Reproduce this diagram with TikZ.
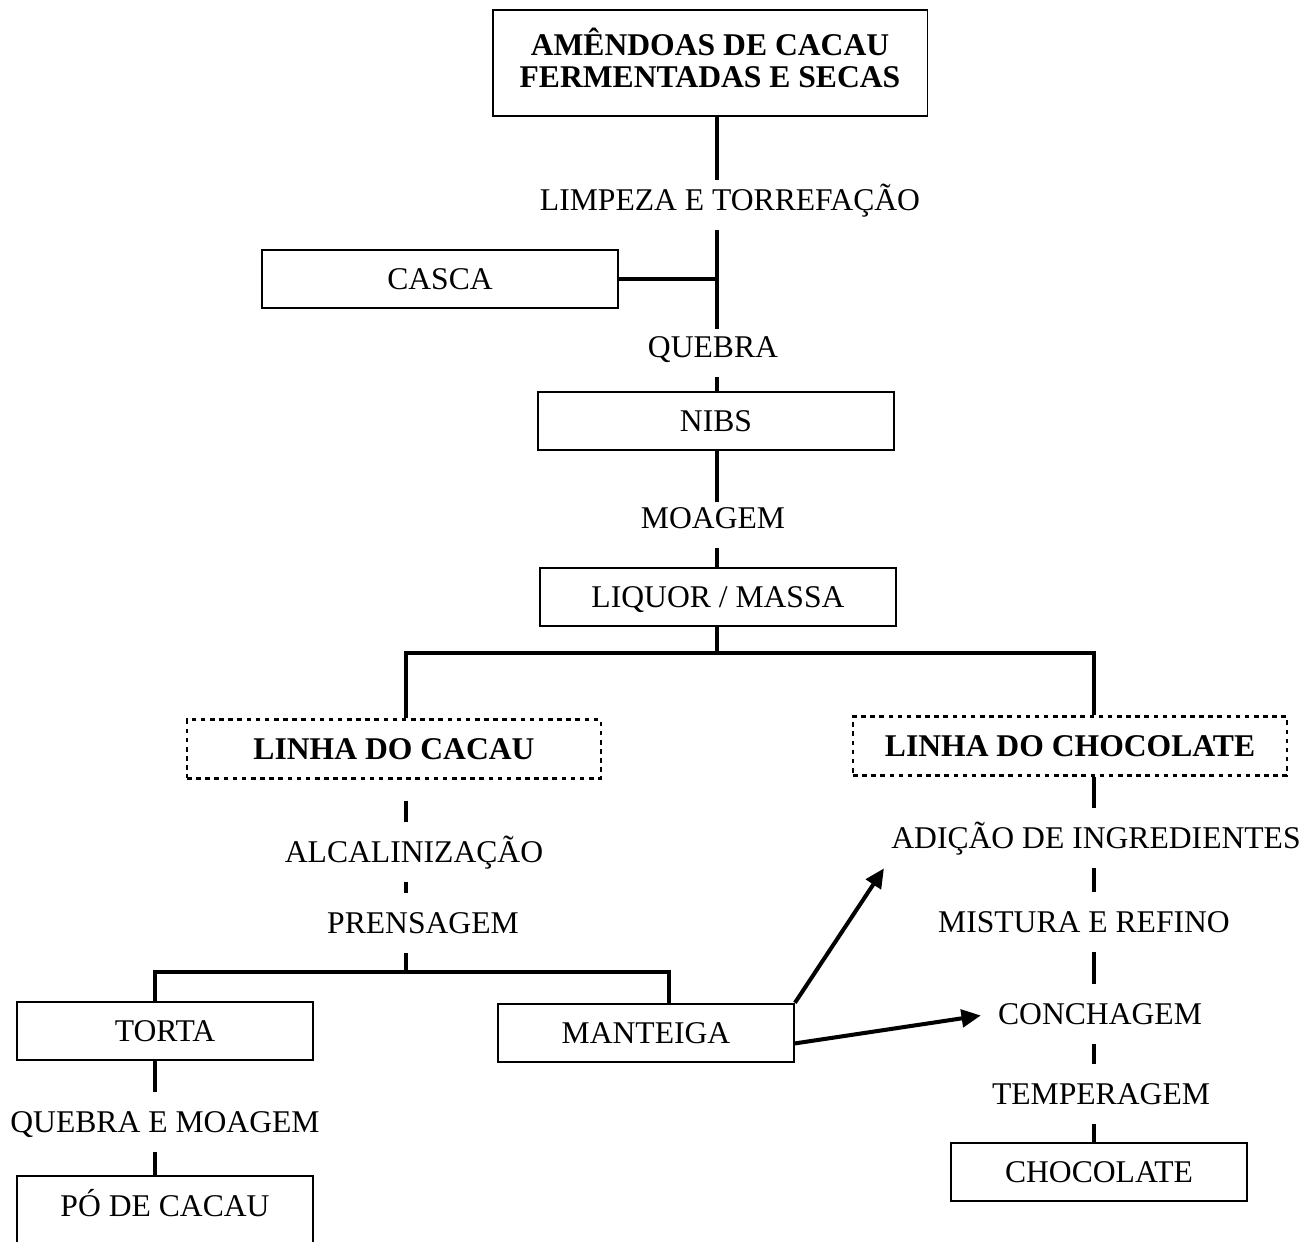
\documentclass[tikz,border=0pt]{standalone}
\usepackage{fontspec}
\setmainfont{Liberation Serif}
\usetikzlibrary{arrows.meta}
\begin{document}
\begin{tikzpicture}[x=0.02cm,y=-0.02cm,
  font=\fontsize{18}{18.7}\selectfont,
  caixa/.style={draw,line width=1.1pt,minimum width=7.12cm,minimum height=1.17cm,inner sep=0pt,text height=11.9pt,text depth=0pt},
  caixap/.style={caixa,minimum width=5.92cm},
  linha/.style={draw,line width=1.6pt,dash pattern=on 2.6pt off 2.6pt,minimum height=1.17cm,inner sep=0pt,text height=11.9pt,text depth=0pt,font=\fontsize{18}{18.7}\selectfont\bfseries},
  etapa/.style={minimum height=1.2cm,inner xsep=4pt,inner ysep=0pt,text height=11.9pt,text depth=0pt},
  liga/.style={line width=2.3pt},
  seta/.style={line width=2.3pt,-{Triangle[length=11pt,width=10pt]}}]
\useasboundingbox (0,0) rectangle (1312,1241);
\coordinate (eixo) at (717,0);
\coordinate (eixoA) at (406,0);
\coordinate (eixoB) at (1094,0);
\coordinate (eixoT) at (155,0);
\coordinate (eixoM) at (669,0);
\node[draw,line width=1.1pt,align=center,minimum width=8.7cm,minimum height=2.12cm,inner sep=0pt,text height=28.3pt,text depth=0pt,font=\fontsize{18}{18.7}\selectfont\bfseries] (amendoas) at (710,63) {AMÊNDOAS DE CACAU\\FERMENTADAS E SECAS};
\node[etapa] (limpeza) at (730,200) {LIMPEZA E TORREFAÇÃO};
\node[caixa] (casca) at (440,279) {CASCA};
\node[etapa] (quebra) at (713,347) {QUEBRA};
\node[caixa] (nibs) at (716,421) {NIBS};
\node[etapa] (moagem) at (713,518) {MOAGEM};
\node[caixa] (liquor) at (718,597) {LIQUOR / MASSA};
\coordinate (bif) at (717,653);
\node[linha,minimum width=8.28cm] (cacau) at (394,749) {LINHA DO CACAU};
\node[linha,minimum width=8.68cm] (chocolate) at (1070,746) {LINHA DO CHOCOLATE};
\node[etapa] (alcal) at (414,852) {ALCALINIZAÇÃO};
\node[etapa] (prensagem) at (423,923) {PRENSAGEM};
\coordinate (bifB) at (406,972);
\node[caixap] (torta) at (165,1031) {TORTA};
\node[caixap] (manteiga) at (646,1033) {MANTEIGA};
\node[etapa] (quebramoagem) at (165,1122) {QUEBRA E MOAGEM};
\node[caixap,minimum height=1.4cm,text depth=5.5pt] (po) at (165,1211) {PÓ DE CACAU};
\node[etapa] (adicao) at (1096,838) {ADIÇÃO DE INGREDIENTES};
\node[etapa] (mistura) at (1084,922) {MISTURA E REFINO};
\node[etapa] (conchagem) at (1100,1014) {CONCHAGEM};
\node[etapa] (temperagem) at (1101,1094) {TEMPERAGEM};
\node[caixap] (chocfinal) at (1099,1172) {CHOCOLATE};
\draw[liga,shorten >=-0.2cm] (amendoas.south -| eixo) -- (limpeza.north -| eixo);
\draw[liga,shorten >=-0.24cm] (limpeza.south -| eixo) -- (quebra.north -| eixo);
\draw[liga] (casca.east) -- (casca.east -| eixo);
\draw[liga] (quebra.south -| eixo) -- (nibs.north -| eixo);
\draw[liga,shorten >=-0.28cm] (nibs.south -| eixo) -- (moagem.north -| eixo);
\draw[liga] (moagem.south -| eixo) -- (liquor.north -| eixo);
\draw[liga] (liquor.south -| eixo) -- (bif);
\draw[liga] (cacau.north -| eixoA) |- (bif) -| (chocolate.north -| eixoB);
\draw[liga,shorten <=0.42cm] (cacau.south -| eixoA) -- (alcal.north -| eixoA);
\draw[liga] (alcal.south -| eixoA) -- (prensagem.north -| eixoA);
\draw[liga] (prensagem.south -| eixoA) -- (bifB);
\draw[liga] (torta.north -| eixoT) |- (bifB) -| (manteiga.north -| eixoM);
\draw[liga] (torta.south -| eixoT) -- (quebramoagem.north -| eixoT);
\draw[liga] (quebramoagem.south -| eixoT) -- (po.north -| eixoT);
\draw[liga] (chocolate.south -| eixoB) -- (adicao.north -| eixoB);
\draw[liga] (adicao.south -| eixoB) -- (mistura.north -| eixoB);
\draw[liga] (mistura.south -| eixoB) -- (conchagem.north -| eixoB);
\draw[liga] (conchagem.south -| eixoB) -- (temperagem.north -| eixoB);
\draw[liga] (temperagem.south -| eixoB) -- (chocfinal.north -| eixoB);
\draw[seta] (manteiga.north east) -- (adicao.south west);
\draw[seta,shorten >=0.2cm] (manteiga.-4) -- (conchagem.west);
\end{tikzpicture}
\end{document}
